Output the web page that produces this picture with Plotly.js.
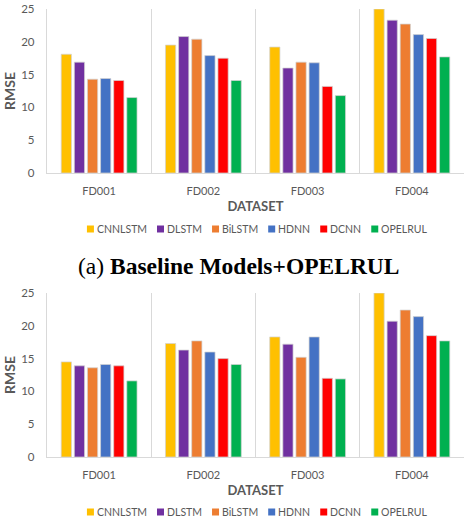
<!DOCTYPE html>
<html><head><meta charset="utf-8">
<script src="https://cdn.plot.ly/plotly-3.0.1.min.js"></script>
<style>html,body{margin:0;padding:0;background:#fff}</style>
</head><body><div id="chart" style="width:464px;height:523px"></div>
<script>
const datasets = ['FD001', 'FD002', 'FD003', 'FD004'];
const models = ['CNNLSTM', 'DLSTM', 'BiLSTM', 'HDNN', 'DCNN', 'OPELRUL'];

// (a) Baseline Models + OPELRUL
const a_CNNLSTM = [18.1, 19.5, 19.2, 25.0];
const a_DLSTM   = [16.9, 20.8, 16.0, 23.3];
const a_BiLSTM  = [14.3, 20.4, 16.9, 22.7];
const a_HDNN    = [14.4, 17.9, 16.8, 21.1];
const a_DCNN    = [14.1, 17.5, 13.2, 20.5];
const a_OPELRUL = [11.5, 14.1, 11.8, 17.7];

// (b) second panel
const b_CNNLSTM = [14.5, 17.3, 18.3, 25.0];
const b_DLSTM   = [13.9, 16.3, 17.2, 20.7];
const b_BiLSTM  = [13.6, 17.7, 15.2, 22.4];
const b_HDNN    = [14.1, 16.0, 18.3, 21.4];
const b_DCNN    = [13.9, 15.0, 12.0, 18.5];
const b_OPELRUL = [11.6, 14.1, 11.9, 17.7];

const captionA = '(a) <b>Baseline Models+OPELRUL</b>';

const colors = ['#FFC000', '#7030A0', '#ED7D31', '#4472C4', '#FF0000', '#00B050'];
const seriesA = [a_CNNLSTM, a_DLSTM, a_BiLSTM, a_HDNN, a_DCNN, a_OPELRUL];
const seriesB = [b_CNNLSTM, b_DLSTM, b_BiLSTM, b_HDNN, b_DCNN, b_OPELRUL];

const W = 464, H = 523, ML = 47;
const PW = W - ML;
const py = p => 1 - p / H;
const px = p => (p - ML) / PW;

const traces = [];
models.forEach((m, i) => {
  traces.push({type: 'bar', name: m, x: datasets, y: seriesA[i], xaxis: 'x', yaxis: 'y',
    marker: {color: colors[i], line: {color: 'rgba(210,210,210,0.9)', width: 0.8}},
    showlegend: false, hoverinfo: 'x+y+name'});
});
models.forEach((m, i) => {
  traces.push({type: 'bar', name: m, x: datasets, y: seriesB[i], xaxis: 'x2', yaxis: 'y2',
    marker: {color: colors[i], line: {color: 'rgba(210,210,210,0.9)', width: 0.8}},
    showlegend: false, hoverinfo: 'x+y+name'});
});

const FONT = 'Lato, sans-serif';
const tickFont = {family: FONT, size: 11, color: '#595959'};
const titleFont = {family: FONT, size: 14, color: '#595959', weight: 'bold'};
const xTitleFont = {family: FONT, size: 13, color: '#595959', weight: 'bold'};
const legFontSize = 10.5;

function xa(anchor) {
  return {anchor: anchor, domain: [0, 1], type: 'category', range: [-0.5, 3.5], tickson: 'boundaries',
    showgrid: true, gridcolor: '#d9d9d9', gridwidth: 1.2, showline: true, linecolor: '#d9d9d9',
    linewidth: 1.2, ticks: '', tickfont: tickFont, ticklabelstandoff: 8, zeroline: false,
    automargin: false, fixedrange: true,
    title: {text: 'DATASET', font: xTitleFont, standoff: 5}};
}
function ya(anchor, dom) {
  return {anchor: anchor, domain: dom, range: [0, 25], dtick: 5, tick0: 0, showgrid: false,
    showline: true, linecolor: '#d9d9d9', linewidth: 1.2, ticks: '', tickfont: {family: FONT, size: 11.5, color: '#595959'},
    ticklabelstandoff: 9, zeroline: false, automargin: false, fixedrange: true,
    title: {text: 'RMSE', font: titleFont, standoff: 2}};
}

// legend built from swatches + text (laid out from measured text widths)
const ctx = document.createElement('canvas').getContext('2d');
ctx.font = legFontSize + 'px Lato';
const tw = models.map(m => ctx.measureText(m).width);
const SW = 7, SG = 3, IG = 10;
const totalW = tw.reduce((s, w) => s + SW + SG + w, 0) + IG * (models.length - 1);
const legCenter = 257;

const shapes = [];
const annotations = [];
function addLegend(cy) {
  let x = legCenter - totalW / 2;
  models.forEach((m, i) => {
    shapes.push({type: 'rect', xref: 'paper', yref: 'paper', x0: px(x), x1: px(x + SW),
      y0: py(cy + SW / 2), y1: py(cy - SW / 2), fillcolor: colors[i], line: {width: 0}});
    annotations.push({text: m, xref: 'paper', yref: 'paper', x: px(x + SW + SG - 1), y: py(cy),
      xanchor: 'left', yanchor: 'middle', showarrow: false, borderpad: 0,
      font: {family: FONT, size: legFontSize, color: '#595959'}});
    x += SW + SG + tw[i] + IG;
  });
}
addLegend(229);
addLegend(512);

annotations.push({
  text: captionA, xref: 'paper', yref: 'paper', x: px(239), y: py(266),
  xanchor: 'center', yanchor: 'middle', showarrow: false,
  font: {family: '"Liberation Serif", "Times New Roman", serif', size: 23.5, color: '#000000'}
});

const layout = {
  width: W, height: H,
  margin: {l: ML, r: 0, t: 0, b: 0, autoexpand: false},
  paper_bgcolor: '#ffffff', plot_bgcolor: '#ffffff',
  barmode: 'group', bargap: 0.245, bargroupgap: 0.22,
  showlegend: false,
  xaxis: xa('y'),
  yaxis: ya('x', [py(173), py(9)]),
  xaxis2: xa('y2'),
  yaxis2: ya('x2', [py(457), py(293)]),
  shapes: shapes,
  annotations: annotations
};

Plotly.newPlot('chart', traces, layout, {displayModeBar: false, staticPlot: true});
</script>
</body></html>
